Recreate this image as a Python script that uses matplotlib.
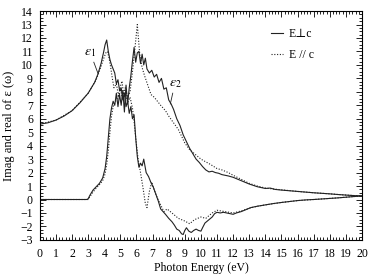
import matplotlib
matplotlib.use("Agg")
import matplotlib.pyplot as plt
from matplotlib.ticker import MultipleLocator

plt.rcParams['font.family'] = ['Liberation Serif', 'DejaVu Serif']
plt.rcParams['mathtext.fontset'] = 'stix'

# Real part, E perpendicular to c (solid)
eps1_perp_x = [0, 0.5, 1, 1.5, 2, 2.5, 3, 3.2, 3.4, 3.6, 3.8, 3.95, 4.05, 4.15, 4.25, 4.35,
               4.45, 4.55, 4.65, 4.75, 4.85, 4.95, 5.05, 5.15, 5.25, 5.35, 5.45, 5.55, 5.65,
               5.75, 5.85, 5.95, 6.05, 6.15, 6.25, 6.35, 6.45, 6.6, 6.75, 6.9, 7.05, 7.2, 7.35,
               7.5, 7.65, 7.8, 8.0, 8.2, 8.35, 8.5, 8.65, 8.8, 8.9, 9.0, 9.1, 9.25, 9.4, 9.55,
               9.7, 9.85, 10.0, 10.1, 10.25, 10.4, 10.55, 10.7, 10.85, 11.0, 11.2, 11.4, 11.6,
               11.8, 12.0, 12.2, 12.5, 12.8, 13.1, 13.5, 14.0, 14.5, 15.0, 15.5, 16.0, 16.5,
               17.0, 17.5, 18.0, 18.5, 19.0, 19.5, 20.0]
eps1_perp_y = [5.6, 5.7, 5.9, 6.2, 6.6, 7.2, 7.9, 8.3, 8.7, 9.3, 10.1, 10.9, 11.5, 11.85, 11.0,
               10.4, 10.0, 9.7, 9.4, 8.6, 8.9, 8.1, 8.3, 7.4, 7.9, 6.9, 7.3, 6.4, 6.9, 6.0, 6.3,
               4.6, 3.2, 2.4, 2.7, 2.5, 3.0, 2.0, 1.7, 1.25, 0.9, 0.4, -0.1, -0.7, -0.9, -1.1,
               -1.4, -1.65, -1.9, -2.2, -2.3, -2.55, -2.6, -2.3, -2.1, -2.35, -2.45, -2.3, -2.2,
               -2.3, -2.35, -2.1, -1.75, -1.6, -1.45, -1.3, -1.05, -0.95, -1.0, -0.95, -1.0,
               -1.05, -1.1, -1.0, -0.9, -0.75, -0.6, -0.5, -0.4, -0.3, -0.22, -0.15, -0.08,
               -0.03, 0.0, 0.04, 0.08, 0.12, 0.17, 0.22, 0.27]

# Imaginary part, E perpendicular to c (solid)
eps2_perp_x = [0, 2.9, 3.0, 3.1, 3.3, 3.5, 3.7, 3.9, 4.05, 4.15, 4.25, 4.35, 4.45, 4.55, 4.65,
               4.75, 4.85, 4.95, 5.05, 5.15, 5.25, 5.35, 5.45, 5.55, 5.65, 5.75, 5.85, 5.95,
               6.05, 6.15, 6.25, 6.35, 6.45, 6.55, 6.65, 6.8, 6.95, 7.1, 7.25, 7.4, 7.55, 7.7,
               7.85, 8.0, 8.15, 8.3, 8.5, 8.7, 8.9, 9.1, 9.3, 9.5, 9.7, 9.9, 10.1, 10.3, 10.5,
               10.7, 10.9, 11.1, 11.3, 11.5, 11.7, 12.0, 12.3, 12.6, 13.0, 13.5, 14.0, 14.3,
               14.6, 15.0, 15.5, 16.0, 16.5, 17.0, 17.5, 18.0, 18.5, 19.0, 19.5, 20.0]
eps2_perp_y = [0, 0, 0.05, 0.3, 0.7, 0.95, 1.2, 1.6, 2.3, 3.2, 4.6, 6.0, 6.8, 7.3, 7.0, 7.9,
               6.9, 7.8, 7.0, 8.1, 6.5, 8.5, 7.1, 8.3, 9.2, 10.3, 11.3, 10.2, 10.9, 11.0, 10.1,
               10.8, 10.0, 10.5, 9.7, 9.4, 9.6, 9.1, 9.3, 8.7, 9.0, 8.2, 8.3, 7.4, 7.1, 6.7,
               6.0, 5.5, 4.8, 4.3, 3.8, 3.4, 3.0, 2.75, 2.45, 2.2, 2.05, 2.1, 2.0, 1.95, 1.85,
               1.8, 1.75, 1.65, 1.5, 1.35, 1.15, 0.95, 0.82, 0.85, 0.75, 0.7, 0.65, 0.6, 0.55,
               0.5, 0.46, 0.42, 0.37, 0.33, 0.29, 0.26]

# Real part, E parallel to c (dotted)
eps1_par_x = [0, 1, 2, 3, 3.5, 3.8, 4.0, 4.1, 4.2, 4.3, 4.4, 4.5, 4.6, 4.75, 4.9, 5.0, 5.15,
              5.3, 5.45, 5.6, 5.75, 5.85, 5.95, 6.1, 6.25, 6.4, 6.55, 6.65, 6.8, 6.95, 7.1,
              7.3, 7.5, 7.7, 7.9, 8.1, 8.3, 8.6, 9.0, 9.3, 9.6, 10.0, 10.3, 10.7, 11.0, 11.5,
              12.0, 12.5, 13.0, 13.5, 14.0, 15.0, 16.0, 17.0, 18.0, 19.0, 20.0]
eps1_par_y = [5.6, 5.9, 6.6, 7.9, 8.9, 9.9, 10.6, 10.9, 11.0, 10.5, 9.8, 9.0, 8.3, 8.6, 7.6,
              8.2, 7.4, 8.0, 7.2, 7.6, 6.8, 5.8, 4.6, 3.0, 2.0, 0.9, -0.3, -0.6, 0.6, 1.3, 0.7,
              0.1, -0.4, -0.9, -0.7, -0.9, -1.1, -1.4, -1.6, -1.8, -1.5, -1.3, -1.4, -1.0, -0.8,
              -0.9, -1.0, -0.85, -0.65, -0.5, -0.4, -0.22, -0.08, 0.0, 0.08, 0.17, 0.27]

# Imaginary part, E parallel to c (dotted)
eps2_par_x = [0, 3.0, 3.1, 3.3, 3.5, 3.7, 3.9, 4.05, 4.15, 4.25, 4.35, 4.45, 4.55, 4.7, 4.85,
              5.0, 5.1, 5.2, 5.3, 5.45, 5.6, 5.75, 5.9, 6.05, 6.2, 6.35, 6.5, 6.7, 6.9, 7.1,
              7.3, 7.5, 7.8, 8.0, 8.3, 8.6, 9.0, 9.3, 9.7, 10.0, 10.3, 10.6, 11.0, 11.3, 11.7,
              12.0, 12.5, 13.0, 13.5, 14.0, 14.5, 15.0, 16.0, 17.0, 18.0, 19.0, 20.0]
eps2_par_y = [0, 0, 0.2, 0.55, 0.85, 1.1, 1.4, 1.9, 2.6, 3.6, 5.0, 6.2, 6.9, 7.3, 7.6, 8.4,
              8.8, 7.8, 8.3, 7.6, 8.0, 9.5, 11.2, 13.0, 10.8, 9.8, 9.2, 8.5, 7.8, 7.6, 7.3, 7.0,
              6.6, 6.2, 5.7, 5.2, 4.2, 3.7, 3.3, 3.0, 2.8, 2.6, 2.3, 2.2, 2.0, 1.8, 1.5, 1.2,
              1.0, 0.85, 0.78, 0.72, 0.6, 0.5, 0.42, 0.33, 0.26]

fig = plt.figure(figsize=(3.69, 2.77), dpi=100)
ax = fig.add_axes([0.108, 0.134, 0.873, 0.826])

lc = '#222222'
ax.plot(eps1_perp_x, eps1_perp_y, color=lc, lw=0.8, label='E\u22a5c')
ax.plot(eps2_perp_x, eps2_perp_y, color=lc, lw=0.8)
ax.plot(eps1_par_x, eps1_par_y, color=lc, lw=0.8, ls=(0, (1, 1.5)), label='E // c')
ax.plot(eps2_par_x, eps2_par_y, color=lc, lw=0.8, ls=(0, (1, 1.5)))

ax.set_xlim(0, 20)
ax.set_ylim(-3, 14)
ax.xaxis.set_major_locator(MultipleLocator(1))
ax.xaxis.set_minor_locator(MultipleLocator(0.2))
ax.yaxis.set_major_locator(MultipleLocator(1))
ax.yaxis.set_minor_locator(MultipleLocator(0.25))
ax.tick_params(which='both', direction='in', top=True, right=True, labelsize=8.5, width=0.6)
ax.tick_params(which='major', length=4)
ax.tick_params(which='minor', length=2)
ax.tick_params(axis='x', which='major', pad=6)
ax.tick_params(axis='y', which='major', pad=5)
for s in ax.spines.values():
    s.set_linewidth(0.8)

ax.set_xlabel('Photon Energy (eV)', fontsize=8.5, labelpad=1)
ax.set_ylabel('Imag and real of \u03b5 (\u03c9)', fontsize=9, labelpad=4)

# curve labels
ax.text(3.1, 10.9, r'$\varepsilon_1$', fontsize=10, ha='center', va='center')
ax.plot([3.35, 3.6], [10.2, 9.4], color=lc, lw=0.6)
ax.text(8.4, 8.6, r'$\varepsilon_2$', fontsize=10, ha='center', va='center')
ax.plot([8.25, 8.1], [7.9, 7.1], color=lc, lw=0.6)

ax.legend(loc='upper left', bbox_to_anchor=(0.70, 0.95), frameon=False, fontsize=8.5,
          handlelength=1.0, handletextpad=0.5, labelspacing=0.75, borderpad=0)

fig.savefig('out.png', dpi=100)
